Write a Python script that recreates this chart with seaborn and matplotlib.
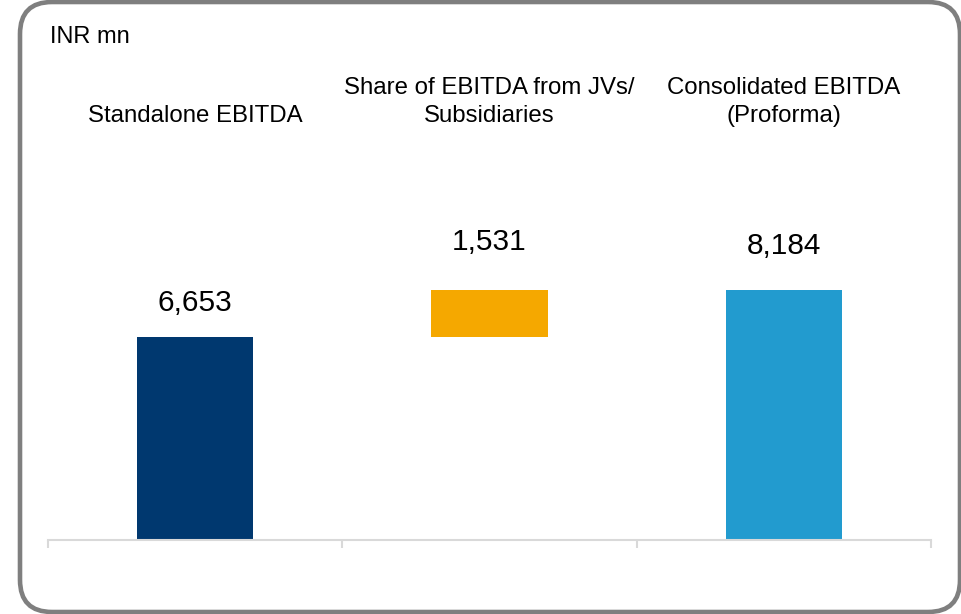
import matplotlib
matplotlib.use("Agg")
import matplotlib.pyplot as plt
import matplotlib.transforms as mtransforms
from matplotlib.patches import FancyBboxPatch
import seaborn as sns

# Data (INR mn)
categories = ["Standalone EBITDA", "Share of EBITDA from JVs/\nSubsidiaries", "Consolidated EBITDA\n(Proforma)"]
values = [6653, 1531, 8184]
bases = [0, 6653, 0]
value_labels = ["6,653", "1,531", "8,184"]
colors = ["#00386F", "#F5A800", "#229BCF"]

sns.set_style("white")
plt.rcParams["font.family"] = ["Liberation Sans", "DejaVu Sans"]

W, H = 962, 614
fig = plt.figure(figsize=(W / 100, H / 100), dpi=100)
ax = fig.add_axes([48 / W, (H - 540) / H, (931 - 48) / W, (540 - 45) / H])

sns.barplot(x=categories, y=values, hue=categories, palette=colors,
            width=0.395, linewidth=0, legend=False, ax=ax, saturation=1)

# shift the floating bar up to its base (waterfall)
for patch, b in zip(ax.patches, bases):
    patch.set_y(b)

ax.set_xlim(-0.5, 2.5)
ax.set_ylim(0, 16210)

# value labels above the bars
pads = [26, 40, 36]
for i, (v, b, lab) in enumerate(zip(values, bases, value_labels)):
    ax.annotate(lab, (i, v + b), xytext=(0, pads[i] * 0.72), textcoords="offset points",
                ha="center", va="baseline", fontsize=21.5, color="#000000")

# category labels at the top
trans = mtransforms.blended_transform_factory(ax.transData, fig.transFigure)
for i, cat in enumerate(categories):
    ax.text(i, 1 - 127 / H, cat, transform=trans, ha="center", va="bottom",
            multialignment="center", fontsize=17.3, linespacing=1.35, color="#000000")

fig.text(50 / W, 1 - 43 / H, "INR mn", ha="left", va="baseline", fontsize=17, color="#000000")

# axis styling
for s in ["top", "right", "left"]:
    ax.spines[s].set_visible(False)
ax.spines["bottom"].set_color("#D9D9D9")
ax.spines["bottom"].set_linewidth(1.5)
ax.set_yticks([])
ax.set_ylabel("")
ax.set_xticks([])
ax.set_xticks([-0.5, 0.5, 1.5, 2.5], minor=True)
ax.tick_params(axis="x", which="minor", direction="out", length=6, width=1.5,
               color="#D9D9D9", labelbottom=False, bottom=True)
ax.set_facecolor("none")

# rounded frame around the chart
frame = fig.add_axes([0, 0, 1, 1], zorder=10)
frame.set_xlim(0, W)
frame.set_ylim(H, 0)
frame.axis("off")
frame.patch.set_alpha(0)
frame.add_patch(FancyBboxPatch((20, 2), 940, 610, boxstyle="round,pad=0,rounding_size=32",
                               fill=False, edgecolor="#7F7F7F", linewidth=3.3))

fig.savefig("out.png", dpi=100, facecolor="white")
